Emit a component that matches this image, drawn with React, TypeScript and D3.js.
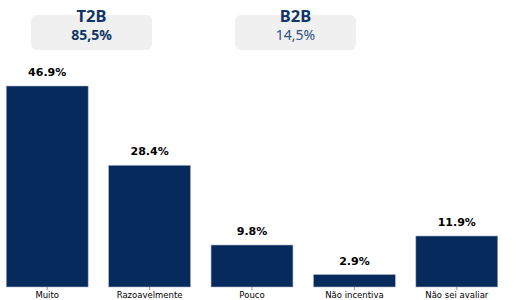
import { useEffect, useRef } from 'react';
import * as d3 from 'd3';

const categories = ['Muito', 'Razoavelmente', 'Pouco', 'Não incentiva', 'Não sei avaliar'];
const values = [46.9, 28.4, 9.8, 2.9, 11.9];
const summaryLabels = ['T2B', 'B2B'];
const summaryValues = ['85,5%', '14,5%'];

const WIDTH = 529;
const HEIGHT = 300;

export default function App() {
  const svgRef = useRef<SVGSVGElement>(null);

  useEffect(() => {
    if (!svgRef.current) return;
    const svg = d3.select(svgRef.current);
    svg.selectAll('*').remove();

    const baseline = 287;
    const x = d3.scaleBand()
      .domain(categories)
      .range([-4, 508])
      .paddingInner(0.2)
      .paddingOuter(0.1);

    const y = d3.scaleLinear()
      .domain([0, 46.9])
      .range([baseline, 86]);

    const barColor = '#052a5b';

    // Bars
    svg.append('g')
      .selectAll('rect')
      .data(values)
      .enter().append('rect')
      .attr('x', (d, i) => x(categories[i]) || 0)
      .attr('y', d => y(d))
      .attr('width', x.bandwidth())
      .attr('height', d => baseline - y(d))
      .attr('fill', barColor)
      .attr('stroke', '#aab6c8')
      .attr('stroke-width', 0.6);

    // Value labels
    svg.append('g')
      .selectAll('text')
      .data(values)
      .enter().append('text')
      .attr('x', (d, i) => (x(categories[i]) || 0) + x.bandwidth() / 2)
      .attr('y', d => y(d) - 10)
      .attr('text-anchor', 'middle')
      .attr('font-family', 'DejaVu Sans')
      .attr('font-weight', 'bold')
      .attr('font-size', '11px')
      .attr('fill', '#000')
      .text(d => `${d.toFixed(1)}%`);

    // x-axis (ticks + labels only)
    const axis = svg.append('g')
      .attr('transform', `translate(0,${baseline})`)
      .call(d3.axisBottom(x).tickSize(3).tickPadding(2));
    axis.select('.domain').remove();
    axis.selectAll('line').attr('stroke', '#999');
    axis.selectAll('text')
      .attr('font-family', 'DejaVu Sans')
      .attr('font-size', '8.5px')
      .attr('fill', '#000');

    // Summary boxes
    const boxCenters = [91.5, 295.5];
    const boxes = svg.append('g')
      .selectAll('g')
      .data(summaryLabels)
      .enter().append('g')
      .attr('transform', (d, i) => `translate(${boxCenters[i]},0)`);

    boxes.append('rect')
      .attr('x', -60.5)
      .attr('y', 15)
      .attr('width', 121)
      .attr('height', 35)
      .attr('rx', 6)
      .attr('fill', '#f0f0f0');

    boxes.append('text')
      .attr('y', 22)
      .attr('text-anchor', 'middle')
      .attr('font-family', 'Noto Sans')
      .attr('font-weight', 'bold')
      .attr('font-size', '16.5px')
      .attr('fill', '#0f3566')
      .text(d => d);

    boxes.append('text')
      .attr('y', 40)
      .attr('text-anchor', 'middle')
      .attr('font-family', 'Noto Sans')
      .attr('font-weight', (d, i) => (i === 0 ? 'bold' : 'normal'))
      .attr('font-size', '14px')
      .attr('fill', (d, i) => (i === 0 ? '#0f3566' : '#2d5283'))
      .text((d, i) => summaryValues[i]);
  }, []);

  return (
    <svg
      ref={svgRef}
      width={WIDTH}
      height={HEIGHT}
      style={{ position: 'absolute', left: 0, top: 0, background: '#fff' }}
    />
  );
}
